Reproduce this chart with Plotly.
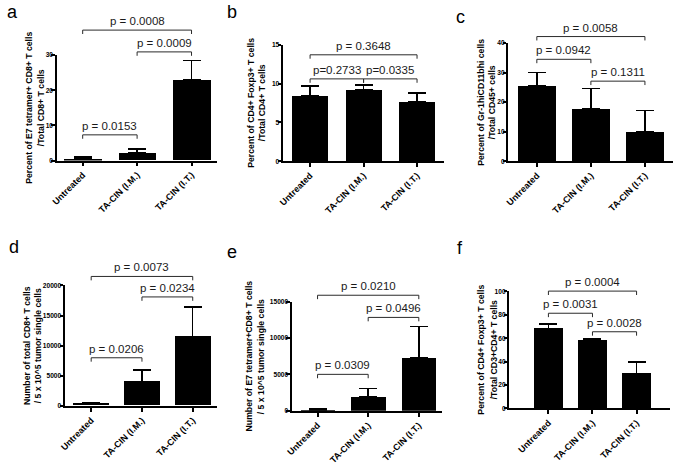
import plotly.graph_objects as go

W, H = 676, 465

categories = ["Untreated", "TA-CIN (I.M.)", "TA-CIN (I.T.)"]

a_vals = [0.5, 2.2, 23.0]
a_errtop = [1.0, 3.3, 28.4]
b_vals = [8.4, 9.2, 7.7]
b_errtop = [9.7, 9.8, 8.75]
c_vals = [25.4, 17.6, 10.0]
c_errtop = [30.1, 24.6, 17.1]
d_vals = [350, 4000, 11500]
d_errtop = [500, 6000, 16400]
e_vals = [150, 1950, 7300]
e_errtop = [250, 3100, 11600]
f_vals = [68.3, 58.6, 30.0]
f_errtop = [72.2, 59.7, 39.7]

a_ticks = [0, 10, 20, 30]
b_ticks = [0, 5, 10, 15]
c_ticks = [0, 10, 20, 30, 40]
d_ticks = [0, 5000, 10000, 15000, 20000]
e_ticks = [0, 5000, 10000, 15000]
f_ticks = [0, 20, 40, 60, 80, 100]

a_pvals = [(0, 2, 37.1, "p = 0.0008"), (1, 2, 30.9, "p = 0.0009"), (0, 1, 7.3, "p = 0.0153")]
b_pvals = [(0, 2, 13.7, "p = 0.3648"), (0, 1, 10.6, "p=0.2733"), (1, 2, 10.6, "p=0.0335")]
c_pvals = [(0, 2, 42.2, "p = 0.0058"), (0, 1, 34.5, "p = 0.0942"), (1, 2, 27.1, "p = 0.1311")]
d_pvals = [(0, 2, 21500, "p = 0.0073"), (1, 2, 18100, "p = 0.0234"), (0, 1, 8000, "p = 0.0206")]
e_pvals = [(0, 2, 15900, "p = 0.0210"), (1, 2, 12850, "p = 0.0496"), (0, 1, 5020, "p = 0.0309")]
f_pvals = [(0, 2, 100.2, "p = 0.0004"), (0, 1, 81.3, "p = 0.0031"), (1, 2, 65.5, "p = 0.0028")]

titles = {
    "a": ["Percent of E7 tetramer+ CD8+ T cells", "/Total CD8+ T cells"],
    "b": ["Percent of CD4+ Foxp3+ T cells", "/Total CD4+ T cells"],
    "c": ["Percent of Gr-1hiCD11bhi cells", "/Total CD45+ cells"],
    "d": ["Number of total CD8+ T cells", "/ 5 x 10^5 tumor single cells"],
    "e": ["Number of E7 tetramer+CD8+ T cells", "/ 5 x 10^5 tumor single cells"],
    "f": ["Percent of CD4+ Foxp3+ T cells", "/Total CD3+CD4+ T cells"],
}

# tx = None -> use the axis' own title (panels at the figure's left edge)
panels = [
    dict(k="a", vals=a_vals, err=a_errtop, ticks=a_ticks, pv=a_pvals,
         box=(51, 213, 52.3, 160.3), xr=(-0.48, 2.47), bw=0.69, tx=None, lx=6.7, ly=8.7),
    dict(k="b", vals=b_vals, err=b_errtop, ticks=b_ticks, pv=b_pvals,
         box=(279.3, 441.7, 41.7, 161), xr=(-0.51, 2.5), bw=0.68, tx=(247, 258.5), lx=228, ly=8.7),
    dict(k="c", vals=c_vals, err=c_errtop, ticks=c_ticks, pv=c_pvals,
         box=(506.7, 673, 40, 161), xr=(-0.53, 2.52), bw=0.7, tx=(479, 490.5), lx=458.7, ly=13.7),
    dict(k="d", vals=d_vals, err=d_errtop, ticks=d_ticks, pv=d_pvals,
         box=(59.3, 213, 288.3, 411.7), xr=(-0.52, 2.48), bw=0.71, tx=None, lx=8.3, ly=248.7),
    dict(k="e", vals=e_vals, err=e_errtop, ticks=e_ticks, pv=e_pvals,
         box=(288.3, 440, 305, 416.7), xr=(-0.51, 2.46), bw=0.68, tx=(245.3, 257.2), lx=228.3, ly=253.7),
    dict(k="f", vals=f_vals, err=f_errtop, ticks=f_ticks, pv=f_pvals,
         box=(507.7, 670, 294.3, 414.3), xr=(-0.89, 2.76), bw=0.66, tx=(479, 491.8), lx=458.3, ly=250.4),
]

FONT = "Liberation Sans, Arial, sans-serif"
TITLE_FONT = dict(family=FONT, size=8.7, color="black", weight="bold")
fig = go.Figure()
shapes = []
annotations = []
layout_axes = {}

for n, p in enumerate(panels, start=1):
    xa = "x" if n == 1 else f"x{n}"
    ya = "y" if n == 1 else f"y{n}"
    L, R, T, B = p["box"]
    ymax = p["ticks"][-1]
    plot_h = B - T
    errs = [t - v for t, v in zip(p["err"], p["vals"])]
    fig.add_trace(go.Bar(
        x=[0, 1, 2], y=p["vals"], width=p["bw"],
        marker=dict(color="black", line=dict(width=0)),
        error_y=dict(type="data", symmetric=False, array=errs, arrayminus=[0, 0, 0],
                     color="black", thickness=1.5, width=9),
        xaxis=xa, yaxis=ya, showlegend=False, hoverinfo="skip",
    ))
    xkey = "xaxis" if n == 1 else f"xaxis{n}"
    ykey = "yaxis" if n == 1 else f"yaxis{n}"
    layout_axes[xkey] = dict(
        domain=[L / W, R / W], anchor=ya, range=list(p["xr"]),
        tickvals=[0, 1, 2], ticktext=categories, tickangle=-45,
        tickfont=dict(family=FONT, size=9, color="black", weight="bold"),
        showline=True, linecolor="black", linewidth=1.5,
        ticks="outside", ticklen=4, tickwidth=1.5, tickcolor="black",
        showgrid=False, zeroline=False, fixedrange=True,
    )
    yax = dict(
        domain=[1 - B / H, 1 - T / H], anchor=xa, range=[0, ymax],
        tickvals=p["ticks"], ticktext=[str(t) for t in p["ticks"]],
        tickfont=dict(family=FONT, size=6.6, color="black", weight="bold"),
        showline=True, linecolor="black", linewidth=1.5,
        ticks="outside", ticklen=3.5, tickwidth=1.5, tickcolor="black",
        ticklabelstandoff=-3,
        showgrid=False, zeroline=False, fixedrange=True,
    )
    if p["tx"] is None:
        yax["title"] = dict(text="<br>".join(titles[p["k"]]), font=TITLE_FONT, standoff=0)
    layout_axes[ykey] = yax
    tick = 4.0 / plot_h
    for (i, j, lvl, lab) in p["pv"]:
        yl = lvl / ymax
        yt = yl - tick
        shapes.append(dict(
            type="path", xref=xa, yref=f"{ya} domain",
            path=f"M {i},{yt} L {i},{yl} L {j},{yl} L {j},{yt}",
            line=dict(color="#2a2a2a", width=1),
        ))
        annotations.append(dict(
            x=(i + j) / 2, y=yl, xref=xa, yref=f"{ya} domain",
            text=lab, showarrow=False, xanchor="center", yanchor="bottom", yshift=1,
            font=dict(family=FONT, size=11.5, color="#1a1a1a"),
        ))
    if p["tx"] is not None:
        for line_text, cx in zip(titles[p["k"]], p["tx"]):
            annotations.append(dict(
                x=cx / W, y=0.5, xref="paper", yref=f"{ya} domain",
                text=line_text, showarrow=False, textangle=-90,
                xanchor="center", yanchor="middle", borderpad=0,
                font=TITLE_FONT,
            ))
    annotations.append(dict(
        x=p["lx"] / W, y=1 - p["ly"] / H, xref="paper", yref="paper",
        text=p["k"], showarrow=False, xanchor="center", yanchor="middle",
        font=dict(family=FONT, size=18, color="black"),
    ))

fig.update_layout(
    width=W, height=H, margin=dict(l=0, r=0, t=0, b=0),
    paper_bgcolor="white", plot_bgcolor="white",
    shapes=shapes, annotations=annotations, bargap=0,
    **layout_axes,
)

fig.write_html("out.html", config={"displayModeBar": False},
               post_script="document.body.style.margin='0';")
